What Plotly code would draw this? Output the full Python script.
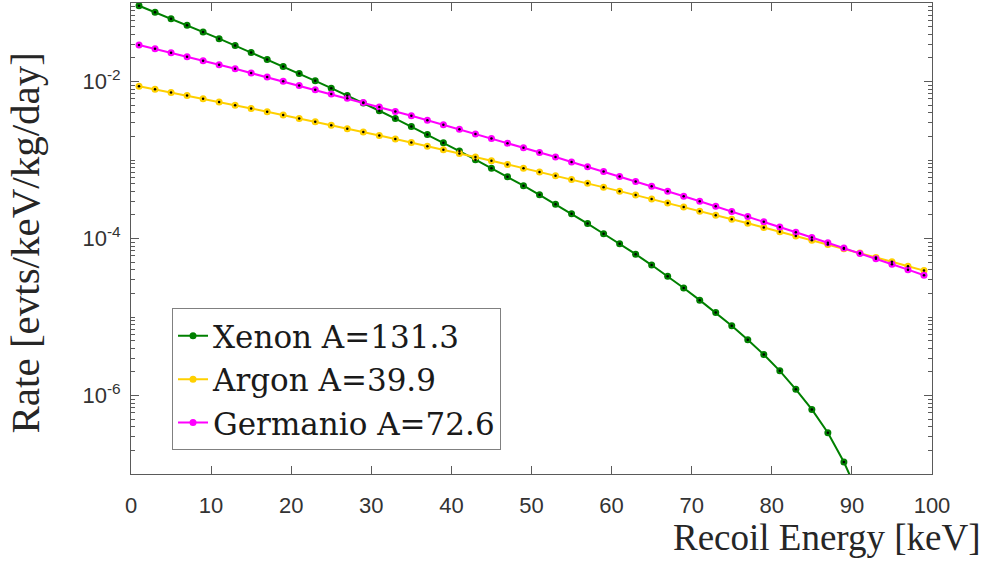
import plotly.graph_objects as go

energy_kev = [1, 3, 5, 7, 9, 11, 13, 15, 17, 19, 21, 23, 25, 27, 29, 31, 33, 35, 37, 39,
              41, 43, 45, 47, 49, 51, 53, 55, 57, 59, 61, 63, 65, 67, 69, 71, 73, 75, 77, 79,
              81, 83, 85, 87, 89, 91, 93, 95, 97, 99]

xenon_rate = [9.23e-2, 7.64e-2, 6.31e-2, 5.20e-2, 4.28e-2, 3.51e-2, 2.87e-2, 2.34e-2, 1.91e-2, 1.55e-2,
              1.26e-2, 1.02e-2, 8.22e-3, 6.62e-3, 5.31e-3, 4.24e-3, 3.37e-3, 2.67e-3, 2.11e-3, 1.66e-3,
              1.30e-3, 1.01e-3, 7.87e-4, 6.10e-4, 4.70e-4, 3.60e-4, 2.73e-4, 2.06e-4, 1.55e-4, 1.15e-4,
              8.57e-5, 6.31e-5, 4.59e-5, 3.30e-5, 2.34e-5, 1.64e-5, 1.14e-5, 7.74e-6, 5.14e-6, 3.32e-6,
              2.06e-6, 1.20e-6, 6.64e-7, 3.36e-7, 1.42e-7, 5.0e-8, 1.4e-8, 3.2e-9, 5.0e-10, 5.0e-11]

argon_rate = [8.71e-3, 7.96e-3, 7.26e-3, 6.62e-3, 6.03e-3, 5.49e-3, 4.99e-3, 4.54e-3, 4.12e-3, 3.74e-3,
              3.39e-3, 3.07e-3, 2.78e-3, 2.51e-3, 2.27e-3, 2.05e-3, 1.85e-3, 1.67e-3, 1.50e-3, 1.35e-3,
              1.21e-3, 1.09e-3, 9.79e-4, 8.78e-4, 7.87e-4, 7.05e-4, 6.31e-4, 5.64e-4, 5.04e-4, 4.50e-4,
              4.01e-4, 3.57e-4, 3.18e-4, 2.83e-4, 2.52e-4, 2.23e-4, 1.98e-4, 1.76e-4, 1.56e-4, 1.38e-4,
              1.22e-4, 1.08e-4, 9.52e-5, 8.40e-5, 7.41e-5, 6.53e-5, 5.74e-5, 5.05e-5, 4.44e-5, 3.90e-5]

germanio_rate = [2.92e-2, 2.61e-2, 2.32e-2, 2.07e-2, 1.84e-2, 1.63e-2, 1.45e-2, 1.28e-2, 1.14e-2, 1.01e-2,
                 8.90e-3, 7.86e-3, 6.94e-3, 6.12e-3, 5.39e-3, 4.74e-3, 4.16e-3, 3.66e-3, 3.21e-3, 2.81e-3,
                 2.46e-3, 2.15e-3, 1.88e-3, 1.64e-3, 1.43e-3, 1.25e-3, 1.09e-3, 9.44e-4, 8.20e-4, 7.12e-4,
                 6.17e-4, 5.34e-4, 4.63e-4, 4.00e-4, 3.45e-4, 2.98e-4, 2.57e-4, 2.21e-4, 1.90e-4, 1.64e-4,
                 1.40e-4, 1.20e-4, 1.03e-4, 8.84e-5, 7.56e-5, 6.46e-5, 5.51e-5, 4.70e-5, 4.01e-5, 3.41e-5]

series_names = ["Xenon A=131.3", "Argon A=39.9", "Germanio A=72.6"]
series_values = [xenon_rate, argon_rate, germanio_rate]
series_colors = ["#008000", "#FFD000", "#FF00FF"]

x_ticks = [0, 10, 20, 30, 40, 50, 60, 70, 80, 90, 100]
y_tick_vals = [1e-6, 1e-4, 1e-2]
y_tick_text = ["10<sup>-6</sup>", "10<sup>-4</sup>", "10<sup>-2</sup>"]

fig = go.Figure()
for name, vals, col in zip(series_names, series_values, series_colors):
    fig.add_trace(go.Scatter(
        x=energy_kev, y=vals, name=name, mode="lines+markers",
        line=dict(color=col, width=2),
        marker=dict(color=col, size=7, symbol="circle"),
        legendgroup=name,
    ))
for name, vals in zip(series_names, series_values):
    fig.add_trace(go.Scatter(
        x=energy_kev, y=vals, mode="markers", showlegend=False,
        marker=dict(color="black", size=2.5), legendgroup=name, hoverinfo="skip",
    ))

minor_vals = []
for e in range(-7, -1):
    for m in range(1, 10):
        v = m * 10.0 ** e
        if m == 1 and e in (-6, -4, -2):
            continue
        minor_vals.append(v)
minor_vals.append(1e-1)

axis_col = "#5a5a5a"
tick_font = dict(family="Liberation Sans, Arial, sans-serif", size=22, color="#333333")
serif = "Liberation Serif, Times New Roman, serif"

fig.update_layout(
    width=989, height=561,
    margin=dict(l=131, r=57, t=3, b=87),
    paper_bgcolor="white", plot_bgcolor="white",
    showlegend=True,
    legend=dict(
        x=0.0512, y=0.352, xanchor="left", yanchor="top",
        bgcolor="white", bordercolor="#808080", borderwidth=1,
        font=dict(family="DejaVu Serif, serif", size=31, color="#1a1a1a"),
        itemwidth=30, tracegroupgap=0,
    ),
    xaxis=dict(
        range=[0, 100], tickvals=x_ticks, ticks="inside", ticklen=8, tickwidth=1,
        tickcolor=axis_col, showline=True, linecolor=axis_col, linewidth=1,
        mirror="ticks", showgrid=False, zeroline=False, tickfont=tick_font,
        ticklabelstandoff=12,
    ),
    yaxis=dict(
        type="log", range=[-7, -1], tickvals=y_tick_vals, ticktext=y_tick_text,
        ticks="inside", ticklen=8, tickwidth=1, tickcolor=axis_col,
        showline=True, linecolor=axis_col, linewidth=1, mirror="ticks",
        showgrid=False, zeroline=False, tickfont=tick_font, ticklabelstandoff=5,
        minor=dict(tickmode="array", tickvals=minor_vals, ticks="inside",
                   ticklen=4, tickcolor=axis_col, showgrid=False),
    ),
    annotations=[
        dict(text="Recoil Energy [keV]", xref="paper", yref="paper",
             x=1.0637, y=-0.135, xanchor="right", yanchor="middle", showarrow=False,
             font=dict(family=serif, size=37, color="#262626")),
        dict(text="Rate [evts/keV/kg/day]", xref="paper", yref="paper",
             x=-0.132, y=0.49, xanchor="center", yanchor="middle", showarrow=False,
             textangle=-90, font=dict(family=serif, size=41, color="#262626")),
    ],
)

fig.write_html("out.html")
